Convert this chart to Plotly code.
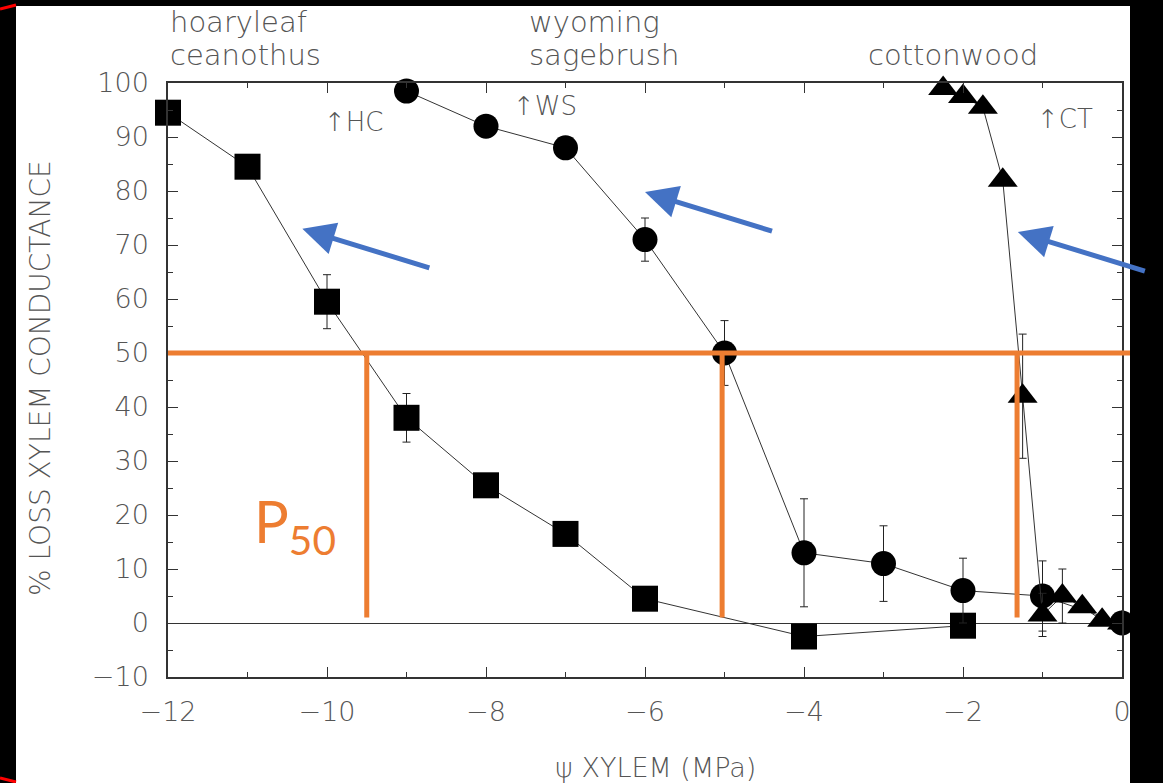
import plotly.graph_objects as go

# ---- data ----
hc_x = [-12, -11, -10, -9, -8, -7, -6, -4, -2]
hc_y = [94.5, 84.5, 59.5, 38, 25.5, 16.5, 4.5, -2.5, -0.5]
hc_err = [0, 0, 5, 4.5, 0, 0, 0, 0, 0]

ws_x = [-9, -8, -7, -6, -5, -4, -3, -2, -1, 0]
ws_y = [98.5, 92, 88, 71, 50, 13, 11, 6, 5, 0]
ws_err = [0, 0, 0, 4, 6, 10, 7, 6, 6.5, 0]

ct_x = [-2.25, -2.0, -1.75, -1.5, -1.25, -1.0, -0.75, -0.5, -0.25, 0]
ct_y = [99, 97.5, 95.5, 82, 42, 1.5, 5, 3, 0.5, 0]
ct_err = [0, 0, 0, 0, 11.5, 4, 5, 0, 0, 0]

p50_x = [-9.5, -5.03, -1.32]
p50_level = 50

x_ticks = [-12, -10, -8, -6, -4, -2, 0]
y_ticks = [-10, 0, 10, 20, 30, 40, 50, 60, 70, 80, 90, 100]

species_labels = [("hoaryleaf", 168, 22), ("ceanothus", 168, 55),
                  ("wyoming", 527, 22), ("sagebrush", 527, 55),
                  ("cottonwood", 866, 55)]
mark_labels = [("↑HC", 354, 122), ("↑WS", 545, 106), ("↑CT", 1065, 119)]
blue_arrow_heads = [(-10.31, 73.0), (-6.0, 79.8), (-1.31, 72.4)]

# ---- layout geometry ----
W, H = 1163, 783
L, R, T, B = 168, 41, 83, 106
PW, PH = W - L - R, H - T - B

def px(xp):
    return (xp - L) / PW

def py(yp):
    return (H - B - yp) / PH

GRAY = "#555555"
FONT = "DejaVu Sans"
WEIGHT = 300
ORANGE = "#ED7D31"
BLUE = "#4472C4"

fig = go.Figure()

err_style = dict(type="data", color="#222", thickness=1, width=4)
line_style = dict(color="#333", width=1)

fig.add_trace(go.Scatter(x=hc_x, y=hc_y, mode="lines+markers",
                         line=line_style,
                         marker=dict(symbol="square", size=26, color="black"),
                         error_y=dict(array=hc_err, **err_style),
                         cliponaxis=False, showlegend=False))
fig.add_trace(go.Scatter(x=ws_x, y=ws_y, mode="lines+markers",
                         line=line_style,
                         marker=dict(symbol="circle", size=25, color="black"),
                         error_y=dict(array=ws_err, **err_style),
                         cliponaxis=False, showlegend=False))
fig.add_trace(go.Scatter(x=ct_x, y=ct_y, mode="lines+markers",
                         line=line_style,
                         marker=dict(symbol="triangle-up", size=26, color="black"),
                         error_y=dict(array=ct_err, **err_style),
                         cliponaxis=False, showlegend=False))

shapes = []
# white page over black background
shapes.append(dict(type="rect", xref="paper", yref="paper",
                   x0=px(16), x1=px(1130), y0=py(783), y1=py(6),
                   fillcolor="white", line=dict(width=0), layer="below"))
# black strip on the right (over tick label)
shapes.append(dict(type="rect", xref="paper", yref="paper",
                   x0=px(1130), x1=px(1163), y0=py(783), y1=py(0),
                   fillcolor="black", line=dict(width=0), layer="above"))
# red corner marks
shapes.append(dict(type="line", xref="paper", yref="paper",
                   x0=px(0), y0=py(9), x1=px(16), y1=py(5),
                   line=dict(color="red", width=3)))
shapes.append(dict(type="line", xref="paper", yref="paper",
                   x0=px(0), y0=py(778), x1=px(16), y1=py(782),
                   line=dict(color="red", width=3)))
# P50 lines
shapes.append(dict(type="line", xref="paper", yref="y",
                   x0=0, x1=px(1130), y0=p50_level, y1=p50_level,
                   line=dict(color=ORANGE, width=5)))
for xv in p50_x:
    shapes.append(dict(type="line", xref="x", yref="y",
                       x0=xv, x1=xv, y0=p50_level, y1=1,
                       line=dict(color=ORANGE, width=5)))

annotations = []
for txt, x0, yc in species_labels:
    annotations.append(dict(text=txt, xref="paper", yref="paper",
                            x=px(x0), y=py(yc), xanchor="left", yanchor="middle",
                            showarrow=False,
                            font=dict(family=FONT, size=29, color=GRAY, weight=WEIGHT)))
for txt, xc, yc in mark_labels:
    annotations.append(dict(text=txt, xref="paper", yref="paper",
                            x=px(xc), y=py(yc), xanchor="center", yanchor="middle",
                            showarrow=False,
                            font=dict(family=FONT, size=26, color=GRAY, weight=WEIGHT)))
for hx, hy in blue_arrow_heads:
    annotations.append(dict(text=" ", x=hx, y=hy, xref="x", yref="y",
                            ax=130, ay=40, showarrow=True,
                            arrowhead=2, arrowsize=1.3, arrowwidth=5,
                            arrowcolor=BLUE, standoff=0))
annotations.append(dict(text="P<sub>50</sub>", xref="paper", yref="paper",
                        x=px(252), y=py(525), xanchor="left", yanchor="middle",
                        showarrow=False,
                        font=dict(family="Lato", size=58, color=ORANGE)))
annotations.append(dict(text="% LOSS XYLEM CONDUCTANCE", xref="paper", yref="paper",
                        x=px(40), y=py(378), textangle=-90,
                        xanchor="center", yanchor="middle", showarrow=False,
                        font=dict(family=FONT, size=28, color=GRAY, weight=WEIGHT)))
annotations.append(dict(text="ψ XYLEM (MPa)", xref="paper", yref="paper",
                        x=px(655), y=py(767), xanchor="center", yanchor="middle",
                        showarrow=False,
                        font=dict(family=FONT, size=27, color=GRAY, weight=WEIGHT)))

axis_common = dict(showgrid=False, showline=True, linecolor="#333", linewidth=1.5,
                   mirror="ticks", ticks="inside", ticklen=10, tickwidth=1.2,
                   tickcolor="#333",
                   tickfont=dict(family=FONT, size=27, color=GRAY, weight=WEIGHT))

fig.update_layout(
    width=W, height=H,
    margin=dict(l=L, r=R, t=T, b=B, pad=0),
    paper_bgcolor="black", plot_bgcolor="white",
    shapes=shapes, annotations=annotations,
    xaxis=dict(range=[-12, 0], tickvals=x_ticks, zeroline=False,
               minor=dict(dtick=1, ticks="inside", ticklen=5, tickcolor="#333"),
               ticklabelstandoff=10, **axis_common),
    yaxis=dict(range=[-10, 100], tickvals=y_ticks, zeroline=True,
               zerolinecolor="#333", zerolinewidth=1.2,
               minor=dict(dtick=5, ticks="inside", ticklen=5, tickcolor="#333"),
               ticklabelstandoff=12, **axis_common),
)

fig.write_html("out.html")
